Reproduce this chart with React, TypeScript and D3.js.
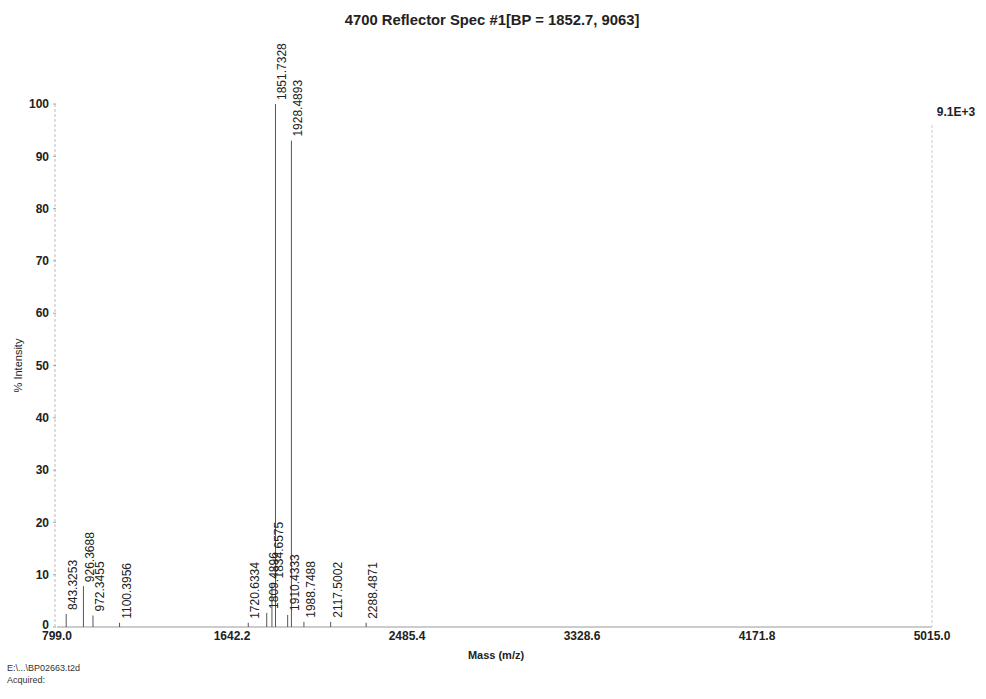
import React from "react";
import * as d3 from "d3";

const peakMasses = [843.3253, 926.3688, 972.3455, 1100.3956, 1720.6334, 1809.4896, 1834.6575, 1851.7328, 1910.4333, 1928.4893, 1988.7488, 2117.5002, 2288.4871];
const peakIntensities = [2.5, 7.8, 2.2, 0.8, 0.8, 2.7, 8.5, 100, 2.3, 93, 1.0, 1.0, 0.8];
const peakLabels = ["843.3253", "926.3688", "972.3455", "1100.3956", "1720.6334", "1809.4896", "1834.6575", "1851.7328", "1910.4333", "1928.4893", "1988.7488", "2117.5002", "2288.4871"];
const xTicks = [799.0, 1642.2, 2485.4, 3328.6, 4171.8, 5015.0];
const yTicks = [0, 10, 20, 30, 40, 50, 60, 70, 80, 90, 100];

const W = 986;
const H = 699;

export default function App() {
  const x = d3.scaleLinear().domain([799, 5015]).range([57, 932]);
  const y = d3.scaleLinear().domain([0, 100]).range([627, 104]);
  const font = "Arial, 'Liberation Sans', Helvetica, sans-serif";

  return (
    <svg width={W} height={H} style={{ position: "absolute", left: 0, top: 0, background: "#fff" }} fontFamily={font}>
      <text x={492} y={25} textAnchor="middle" fontSize={14.8} fontWeight="bold" fill="#222">
        4700 Reflector Spec #1[BP = 1852.7, 9063]
      </text>

      {/* y axis */}
      <line x1={55} x2={55} y1={y(100)} y2={y(0)} stroke="#bbb" strokeDasharray="3,2" />
      {yTicks.map((t) => (
        <g key={t}>
          <line x1={53} x2={56} y1={y(t)} y2={y(t)} stroke="#aaa" />
          <text x={49} y={t === 0 ? y(t) - 2 : y(t)} dy="0.35em" textAnchor="end" fontSize={12} fontWeight="bold" fill="#222">
            {t}
          </text>
        </g>
      ))}
      <text transform={`translate(22,${y(50)}) rotate(-90)`} textAnchor="middle" fontSize={11} fill="#222">
        % Intensity
      </text>

      {/* x axis */}
      <line x1={x(799)} x2={x(5015)} y1={y(0)} y2={y(0)} stroke="#999" />
      {xTicks.map((t) => (
        <text key={t} x={x(t)} y={640} textAnchor="middle" fontSize={12} fontWeight="bold" fill="#222">
          {t.toFixed(1)}
        </text>
      ))}
      <text x={496} y={659} textAnchor="middle" fontSize={11} fontWeight="bold" fill="#222">
        Mass (m/z)
      </text>

      {/* right edge */}
      <line x1={x(5015)} x2={x(5015)} y1={125} y2={y(0)} stroke="#ccc" strokeDasharray="3,2" />
      <text x={956} y={116} textAnchor="middle" fontSize={12} fontWeight="bold" fill="#222">
        9.1E+3
      </text>

      {/* peaks */}
      {peakMasses.map((m, i) => (
        <line key={"p" + i} x1={x(m)} x2={x(m)} y1={y(0)} y2={y(peakIntensities[i])} stroke="#555" strokeWidth={1} />
      ))}
      {peakMasses.map((m, i) => (
        <text
          key={"l" + i}
          transform={`translate(${x(m) + 11},${y(peakIntensities[i]) - 4}) rotate(-90)`}
          fontSize={12}
          fill="#222"
        >
          {peakLabels[i]}
        </text>
      ))}

      <text x={7} y={671} fontSize={9} fill="#333">E:\...\BP02663.t2d</text>
      <text x={7} y={683} fontSize={9} fill="#333">Acquired:</text>
    </svg>
  );
}
